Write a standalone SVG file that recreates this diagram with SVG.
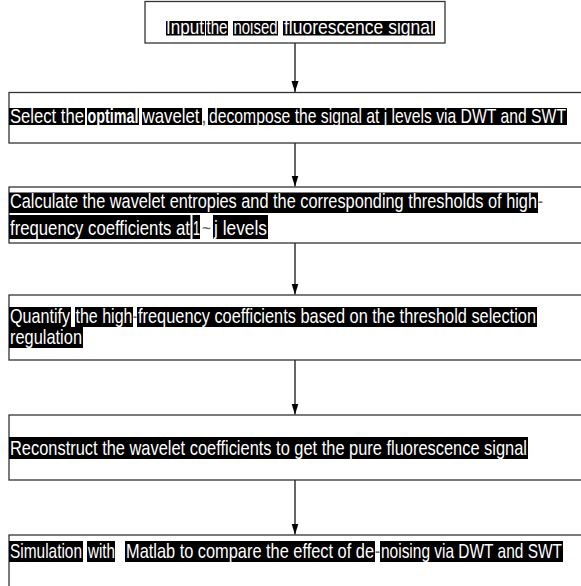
<svg xmlns="http://www.w3.org/2000/svg" width="581" height="586" viewBox="0 0 581 586">
<defs>
<marker id="ah" markerWidth="12" markerHeight="8" refX="11" refY="3.5" orient="auto" markerUnits="userSpaceOnUse">
<path d="M0,0 L11,3.5 L0,7 Z" fill="#000"/>
</marker>
<style>
.box{fill:#fff;stroke:#333;stroke-width:1.3}
.hl{fill:#000}
.t{font-family:"Liberation Sans",Arial,sans-serif;font-size:21px;fill:#fff}
.d{font-family:"Liberation Sans",Arial,sans-serif;font-size:21px;fill:#666}
.con{stroke:#000;stroke-width:1.2;fill:none}
</style>
</defs>
<rect width="581" height="586" fill="#fff"/>
<g id="connectors">
<line class="con" x1="295" y1="43" x2="295" y2="92" marker-end="url(#ah)"/>
<line class="con" x1="295" y1="143" x2="295" y2="186.5" marker-end="url(#ah)"/>
<line class="con" x1="295" y1="243" x2="295" y2="294.5" marker-end="url(#ah)"/>
<line class="con" x1="295" y1="360" x2="295" y2="414.5" marker-end="url(#ah)"/>
<line class="con" x1="295" y1="480" x2="295" y2="534.5" marker-end="url(#ah)"/>
</g>
<g id="n1">
<rect class="box" x="145" y="1.5" width="300" height="41.5"/>
<rect class="hl" x="166" y="21" width="39" height="14.5"/>
<rect class="hl" x="206" y="21" width="22" height="14.5"/>
<rect class="hl" x="233" y="21" width="45" height="14.5"/>
<rect class="hl" x="283" y="21" width="152" height="14.5"/>
<text class="t" x="166" y="33.5" textLength="38" lengthAdjust="spacingAndGlyphs">Input</text>
<text class="t" x="206.5" y="33.5" textLength="21" lengthAdjust="spacingAndGlyphs">the</text>
<text class="t" x="233.5" y="33.5" textLength="44" lengthAdjust="spacingAndGlyphs">noised</text>
<text class="t" x="284" y="33.5" textLength="150" lengthAdjust="spacingAndGlyphs">fluorescence signal</text>
</g>
<g id="n2">
<rect class="box" x="9" y="92.5" width="590" height="50.5"/>
<rect class="hl" x="9" y="108" width="76" height="17"/>
<rect class="hl" x="87" y="108" width="52" height="17"/>
<rect class="hl" x="142" y="108" width="60" height="17"/>
<rect class="hl" x="208" y="108" width="359" height="17"/>
<text class="t" x="10" y="123" textLength="74" lengthAdjust="spacingAndGlyphs">Select the</text>
<text class="t" x="87.5" y="123" textLength="51" lengthAdjust="spacingAndGlyphs" font-weight="bold">optimal</text>
<text class="t" x="142.5" y="123" textLength="57" lengthAdjust="spacingAndGlyphs">wavelet</text>
<text class="d" x="201" y="123">,</text>
<text class="t" x="209" y="123" textLength="357" lengthAdjust="spacingAndGlyphs">decompose the signal at j levels via DWT and SWT</text>
</g>
<g id="n3">
<rect class="box" x="9" y="187" width="590" height="56"/>
<rect class="hl" x="9" y="192.5" width="529" height="20.5"/>
<rect class="hl" x="9" y="215" width="181.5" height="24"/>
<rect class="hl" x="192.5" y="215" width="7.5" height="24"/>
<rect class="hl" x="213" y="215" width="55" height="24"/>
<text class="t" x="10" y="207.5" textLength="527" lengthAdjust="spacingAndGlyphs">Calculate the wavelet entropies and the corresponding thresholds of high</text>
<text class="d" x="538" y="207.5" textLength="5" lengthAdjust="spacingAndGlyphs">-</text>
<text class="t" x="10" y="234.5" textLength="180" lengthAdjust="spacingAndGlyphs">frequency coefficients at</text>
<text class="t" x="193" y="234.5" textLength="7" lengthAdjust="spacingAndGlyphs">1</text>
<text class="d" x="202" y="234.5" textLength="9" lengthAdjust="spacingAndGlyphs">~</text>
<text class="t" x="214" y="234.5" textLength="53" lengthAdjust="spacingAndGlyphs">j levels</text>
</g>
<g id="n4">
<rect class="box" x="9" y="295" width="590" height="65"/>
<rect class="hl" x="9" y="307" width="62" height="20"/>
<rect class="hl" x="75" y="307" width="58" height="20"/>
<rect class="hl" x="137" y="307" width="400" height="20"/>
<rect class="hl" x="9" y="327" width="74" height="21"/>
<text class="t" x="10" y="322.5" textLength="60" lengthAdjust="spacingAndGlyphs">Quantify</text>
<text class="t" x="75.5" y="322.5" textLength="57" lengthAdjust="spacingAndGlyphs">the high</text>
<text class="d" x="133" y="322.5" textLength="4" lengthAdjust="spacingAndGlyphs">-</text>
<text class="t" x="138" y="322.5" textLength="398" lengthAdjust="spacingAndGlyphs">frequency coefficients based on the threshold selection</text>
<text class="t" x="10" y="343.5" textLength="72" lengthAdjust="spacingAndGlyphs">regulation</text>
</g>
<g id="n5">
<rect class="box" x="9" y="415" width="590" height="65"/>
<rect class="hl" x="9" y="437" width="519" height="22"/>
<text class="t" x="10" y="455" textLength="517" lengthAdjust="spacingAndGlyphs">Reconstruct the wavelet coefficients to get the pure fluorescence signal</text>
</g>
<g id="n6">
<rect class="box" x="9" y="535" width="590" height="70"/>
<rect class="hl" x="9" y="541" width="74" height="21"/>
<rect class="hl" x="87" y="541" width="28" height="21"/>
<rect class="hl" x="125" y="541" width="250" height="21"/>
<rect class="hl" x="380" y="541" width="183" height="21"/>
<text class="t" x="10" y="558" textLength="72" lengthAdjust="spacingAndGlyphs">Simulation</text>
<text class="t" x="88" y="558" textLength="27" lengthAdjust="spacingAndGlyphs">with</text>
<text class="t" x="126" y="558" textLength="248" lengthAdjust="spacingAndGlyphs">Matlab  to compare the effect of de</text>
<text class="d" x="375" y="558" textLength="5" lengthAdjust="spacingAndGlyphs">-</text>
<text class="t" x="381" y="558" textLength="181" lengthAdjust="spacingAndGlyphs">noising via DWT and SWT</text>
</g>
</svg>
